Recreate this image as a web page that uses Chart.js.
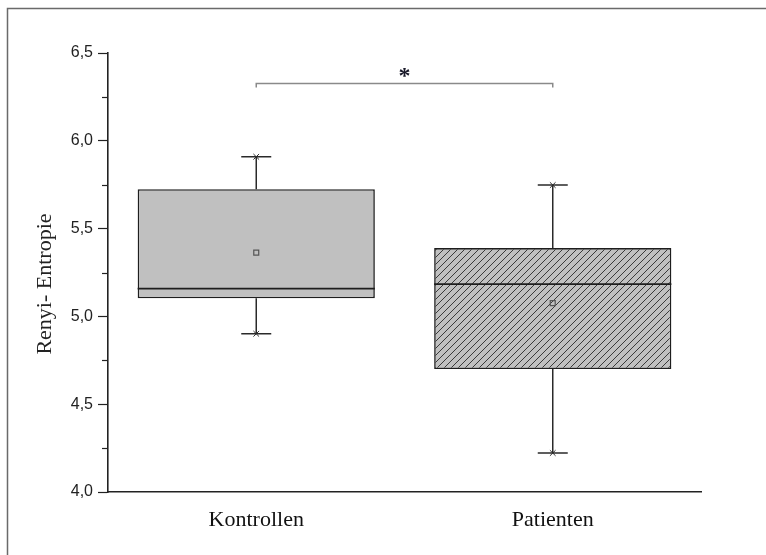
<!DOCTYPE html>
<html>
<head>
<meta charset="utf-8">
<script src="https://cdn.jsdelivr.net/npm/chart.js@4/dist/chart.umd.min.js"></script>
<style>
  html, body { margin: 0; padding: 0; background: #fff; }
  #wrap { position: relative; width: 766px; height: 555px; }
</style>
</head>
<body>
<div id="wrap"><canvas id="c" width="766" height="555"></canvas></div>
<script>
// Renyi entropy box plots: controls vs. patients
const categories = ['Kontrollen', 'Patienten'];
const q1 = [5.103, 4.700];
const q3 = [5.724, 5.389];
const median = [5.158, 5.184];
const whiskerLow = [4.901, 4.222];
const whiskerHigh = [5.909, 5.748];
const mean = [5.363, 5.076];
const yTicks = [4.0, 4.5, 5.0, 5.5, 6.0, 6.5];
const bracketValue = 6.33;
const bracketLabel = '*';
const yTitle = 'Renyi- Entropie';

const BOX_GREY = '#c0c0c0';
const INK = '#222';

// diagonal hatch for the patient box
function makeHatch() {
  const s = 7;
  const c = document.createElement('canvas');
  c.width = s; c.height = s;
  const g = c.getContext('2d');
  g.fillStyle = BOX_GREY;
  g.fillRect(0, 0, s, s);
  g.strokeStyle = '#3a3a3a';
  g.lineWidth = 1;
  g.beginPath();
  g.moveTo(-1, s + 1); g.lineTo(s + 1, -1);
  g.moveTo(-1, 1); g.lineTo(1, -1);
  g.moveTo(s - 1, s + 1); g.lineTo(s + 1, s - 1);
  g.stroke();
  return g.createPattern(c, 'repeat');
}
const hatch = makeHatch();

const boxExtras = {
  id: 'boxExtras',
  beforeDraw(chart) {
    const ctx = chart.ctx;
    ctx.save();
    ctx.strokeStyle = '#6a6a6a';
    ctx.lineWidth = 1.5;
    ctx.beginPath();
    ctx.moveTo(7.5, 555); ctx.lineTo(7.5, 8.5); ctx.lineTo(766, 8.5);
    ctx.stroke();
    ctx.restore();
  },
  afterDraw(chart) {
    const ctx = chart.ctx;
    const y = chart.scales.y;
    const area = chart.chartArea;
    const bars = chart.getDatasetMeta(0).data;
    ctx.save();

    // minor ticks on the value axis
    ctx.strokeStyle = INK;
    ctx.lineWidth = 1.2;
    for (let v = 4.25; v < 6.5; v += 0.5) {
      const py = Math.round(y.getPixelForValue(v)) + 0.5;
      ctx.beginPath();
      ctx.moveTo(area.left - 6, py); ctx.lineTo(area.left, py);
      ctx.stroke();
    }

    // whiskers, caps, medians
    bars.forEach((bar, i) => {
      const cx = bar.x;
      const half = bar.width / 2;
      const yHi = y.getPixelForValue(whiskerHigh[i]);
      const yLo = y.getPixelForValue(whiskerLow[i]);
      const yQ1 = y.getPixelForValue(q1[i]);
      const yQ3 = y.getPixelForValue(q3[i]);
      const yMed = y.getPixelForValue(median[i]);
      ctx.strokeStyle = '#2a2a2a';
      ctx.lineWidth = 1.5;
      ctx.beginPath();
      ctx.moveTo(cx, yQ3); ctx.lineTo(cx, yHi);
      ctx.moveTo(cx, yQ1); ctx.lineTo(cx, yLo);
      ctx.moveTo(cx - 15, yHi); ctx.lineTo(cx + 15, yHi);
      ctx.moveTo(cx - 15, yLo); ctx.lineTo(cx + 15, yLo);
      ctx.stroke();
      ctx.lineWidth = 1.6;
      ctx.strokeStyle = '#1e1e1e';
      ctx.beginPath();
      ctx.moveTo(cx - half, yMed); ctx.lineTo(cx + half, yMed);
      ctx.stroke();
    });

    // significance bracket
    const x0 = bars[0].x, x1 = bars[1].x;
    const by = Math.round(y.getPixelForValue(bracketValue)) + 0.5;
    ctx.strokeStyle = '#8a8a8a';
    ctx.lineWidth = 1.5;
    ctx.beginPath();
    ctx.moveTo(x0, by + 4); ctx.lineTo(x0, by); ctx.lineTo(x1, by); ctx.lineTo(x1, by + 4);
    ctx.stroke();
    ctx.fillStyle = '#1a1a2a';
    ctx.font = 'bold 24px "Liberation Serif"';
    ctx.textAlign = 'center';
    ctx.textBaseline = 'middle';
    ctx.fillText(bracketLabel, (x0 + x1) / 2, by - 7);

    // value axis title
    ctx.translate(45, 284);
    ctx.rotate(-Math.PI / 2);
    ctx.fillStyle = INK;
    ctx.font = '22px "Liberation Serif"';
    ctx.textAlign = 'center';
    ctx.textBaseline = 'middle';
    ctx.fillText(yTitle, 0, 0);
    ctx.restore();
  }
};

new Chart(document.getElementById('c'), {
  type: 'bar',
  data: {
    labels: categories,
    datasets: [
      {
        type: 'bar',
        data: categories.map((_, i) => [q1[i], q3[i]]),
        backgroundColor: [BOX_GREY, hatch],
        borderColor: '#1e1e1e',
        borderWidth: 1.6,
        borderSkipped: false,
        barPercentage: 0.8,
        categoryPercentage: 1.0,
        order: 2
      },
      {
        type: 'line',
        data: mean,
        showLine: false,
        pointStyle: 'rect',
        pointRadius: 3.5,
        pointBorderWidth: 1.2,
        pointBorderColor: '#555',
        pointBackgroundColor: 'rgba(0,0,0,0)',
        order: 1
      },
      {
        type: 'line',
        data: whiskerHigh,
        showLine: false,
        pointStyle: 'crossRot',
        pointRadius: 4,
        pointBorderWidth: 1,
        pointBorderColor: '#333',
        order: 0
      },
      {
        type: 'line',
        data: whiskerLow,
        showLine: false,
        pointStyle: 'crossRot',
        pointRadius: 4,
        pointBorderWidth: 1,
        pointBorderColor: '#333',
        order: 0
      }
    ]
  },
  options: {
    responsive: false,
    animation: false,
    layout: { padding: { left: 0, top: 53, right: 65, bottom: 0 } },
    plugins: { legend: { display: false }, tooltip: { enabled: false } },
    scales: {
      x: {
        offset: true,
        grid: { display: false },
        border: { display: true, color: INK, width: 1.6 },
        ticks: {
          padding: 7,
          color: '#111',
          font: { family: '"Liberation Serif"', size: 22 }
        },
        afterFit(scale) { scale.height = 63; }
      },
      y: {
        min: 4, max: 6.5,
        afterBuildTicks(scale) {
          scale.ticks = yTicks.map(v => ({ value: v }));
        },
        grid: {
          drawOnChartArea: false,
          drawTicks: true,
          tickLength: 10,
          tickWidth: 1.2,
          tickColor: INK
        },
        border: { display: true, color: INK, width: 1.6 },
        ticks: {
          padding: 5,
          color: '#222',
          font: { family: '"Liberation Sans"', size: 16 },
          callback: v => v.toFixed(1).replace('.', ',')
        },
        afterFit(scale) { scale.width = 108; }
      }
    }
  },
  plugins: [boxExtras]
});
</script>
</body>
</html>
